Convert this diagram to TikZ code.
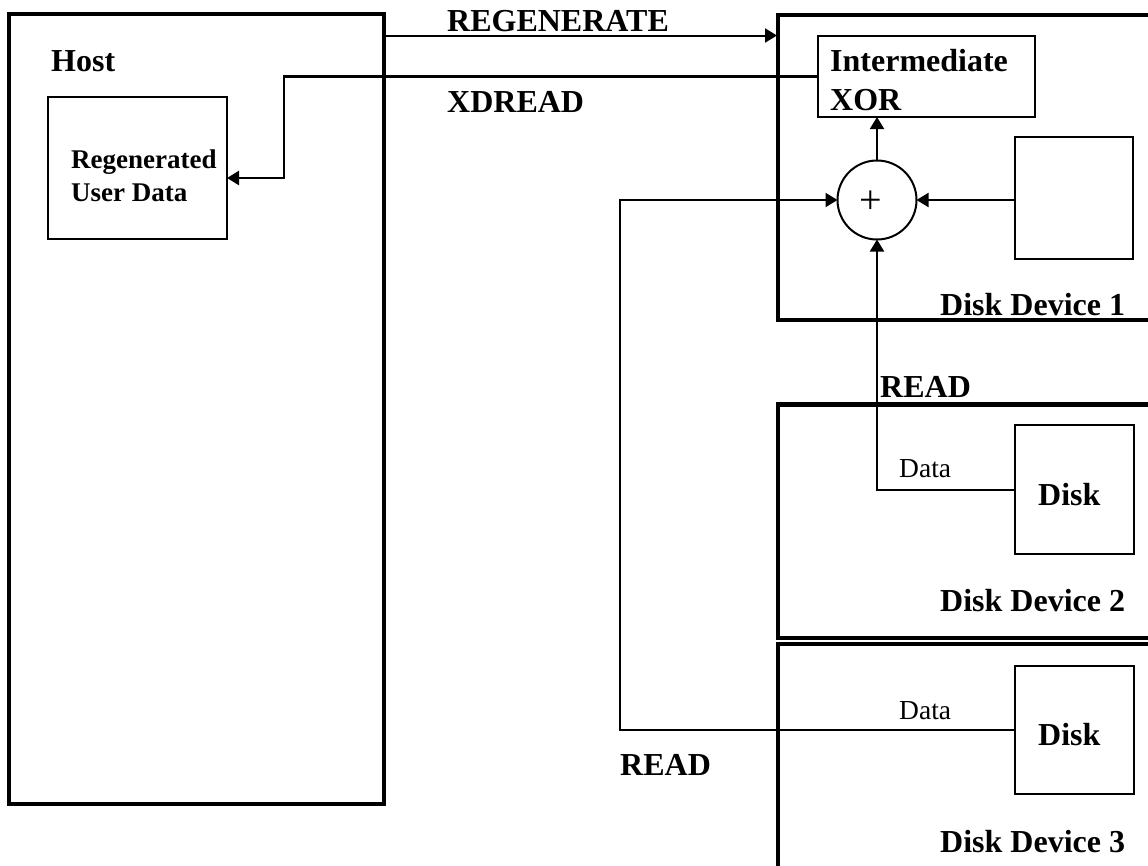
\documentclass[tikz,border=0pt]{standalone}
\usepackage{fontspec}
\setmainfont{Liberation Serif}
\usetikzlibrary{arrows.meta,shapes.geometric}
\tikzset{
  thickbox/.style={draw, line width=4.5pt, inner sep=0pt, outer sep=0pt},
  thinbox/.style={draw, line width=2pt, inner sep=0pt, outer sep=0pt},
  conn/.style={line width=2pt},
  arr/.style={conn, -{Triangle[length=12pt,width=14pt]}},
  big/.style={inner sep=0pt, anchor=base west, font=\fontsize{32}{36}\selectfont\bfseries},
  mid/.style={inner sep=0pt, anchor=base west, font=\fontsize{27}{32}\selectfont\bfseries},
  small/.style={inner sep=0pt, anchor=base west, font=\fontsize{27.5}{32}\selectfont},
}
\begin{document}
\begin{tikzpicture}[x=1pt,y=-1pt]
\clip (0,0) rectangle (1148,865);
\fill[white] (0,0) rectangle (1148,865);
% containers
\node[thickbox, minimum width=375pt, minimum height=790pt] (host) at (196.5,409) {};
\node[thickbox, minimum width=382pt, minimum height=305pt] (dev1) at (969,167.5) {};
\node[thickbox, minimum width=382pt, minimum height=233.5pt] (dev2) at (969,521.25) {};
\node[thickbox, minimum width=382pt, minimum height=236pt] (dev3) at (969,762) {};
% inner boxes
\node[thinbox, minimum width=179pt, minimum height=142pt] (regen) at (137.5,168) {};
\node[thinbox, minimum width=217pt, minimum height=81pt] (xor) at (926.5,76.5) {};
\node[thinbox, minimum width=118pt, minimum height=122pt] (sq1) at (1074,198) {};
\node[thinbox, minimum width=119pt, minimum height=129pt] (disk2) at (1074.5,489.5) {};
\node[thinbox, minimum width=119pt, minimum height=128pt] (disk3) at (1074.5,730) {};
\node[thinbox, circle, minimum size=79pt] (sum) at (877,200) {};
% texts
\node[big] (thost) at (51,71) {Host};
\node[mid] (tregen1) at (71,168) {Regenerated};
\node[mid] (tregen2) at (71,201) {User Data};
\node[big] (txor1) at (830,71) {Intermediate};
\node[big] (txor2) at (830,110) {XOR};
\node[inner sep=0pt, font=\fontsize{40}{44}\selectfont] (tplus) at (871,202) {+};
\node[big] (tregenerate) at (447,31.5) {REGENERATE};
\node[big] (txdread) at (447,112) {XDREAD};
\node[big] (tread1) at (880,397.5) {READ};
\node[big] (tread2) at (620,775) {READ};
\node[small] (tdata2) at (899,477.5) {Data};
\node[small] (tdata3) at (899,719) {Data};
\node[big] (tdisk2) at (1038,505) {Disk};
\node[big] (tdisk3) at (1038,745) {Disk};
\node[big] (tdev1) at (940,315) {Disk Device 1};
\node[big] (tdev2) at (940,611) {Disk Device 2};
\node[big] (tdev3) at (940,852) {Disk Device 3};
% connectors
\coordinate (ry) at (0,35.5);
\draw[arr] (host.east |- ry) -- ([xshift=-1pt]dev1.west |- ry);
\coordinate (xd) at (284,178);
\draw[arr, line width=2.5pt] (xor.west) -| (xd) -- (regen.east |- xd);
\draw[arr] (sum.north) -- (sum.north |- xor.south);
\draw[arr] (sq1.west |- sum.east) -- (sum.east);
\draw[arr] (disk2.west) -- (sum.south |- disk2.west) -- (sum.south);
\coordinate (c3) at (620,730);
\draw[arr] (disk3.west) -- (disk3.west -| c3) |- (sum.west);
\end{tikzpicture}
\end{document}
